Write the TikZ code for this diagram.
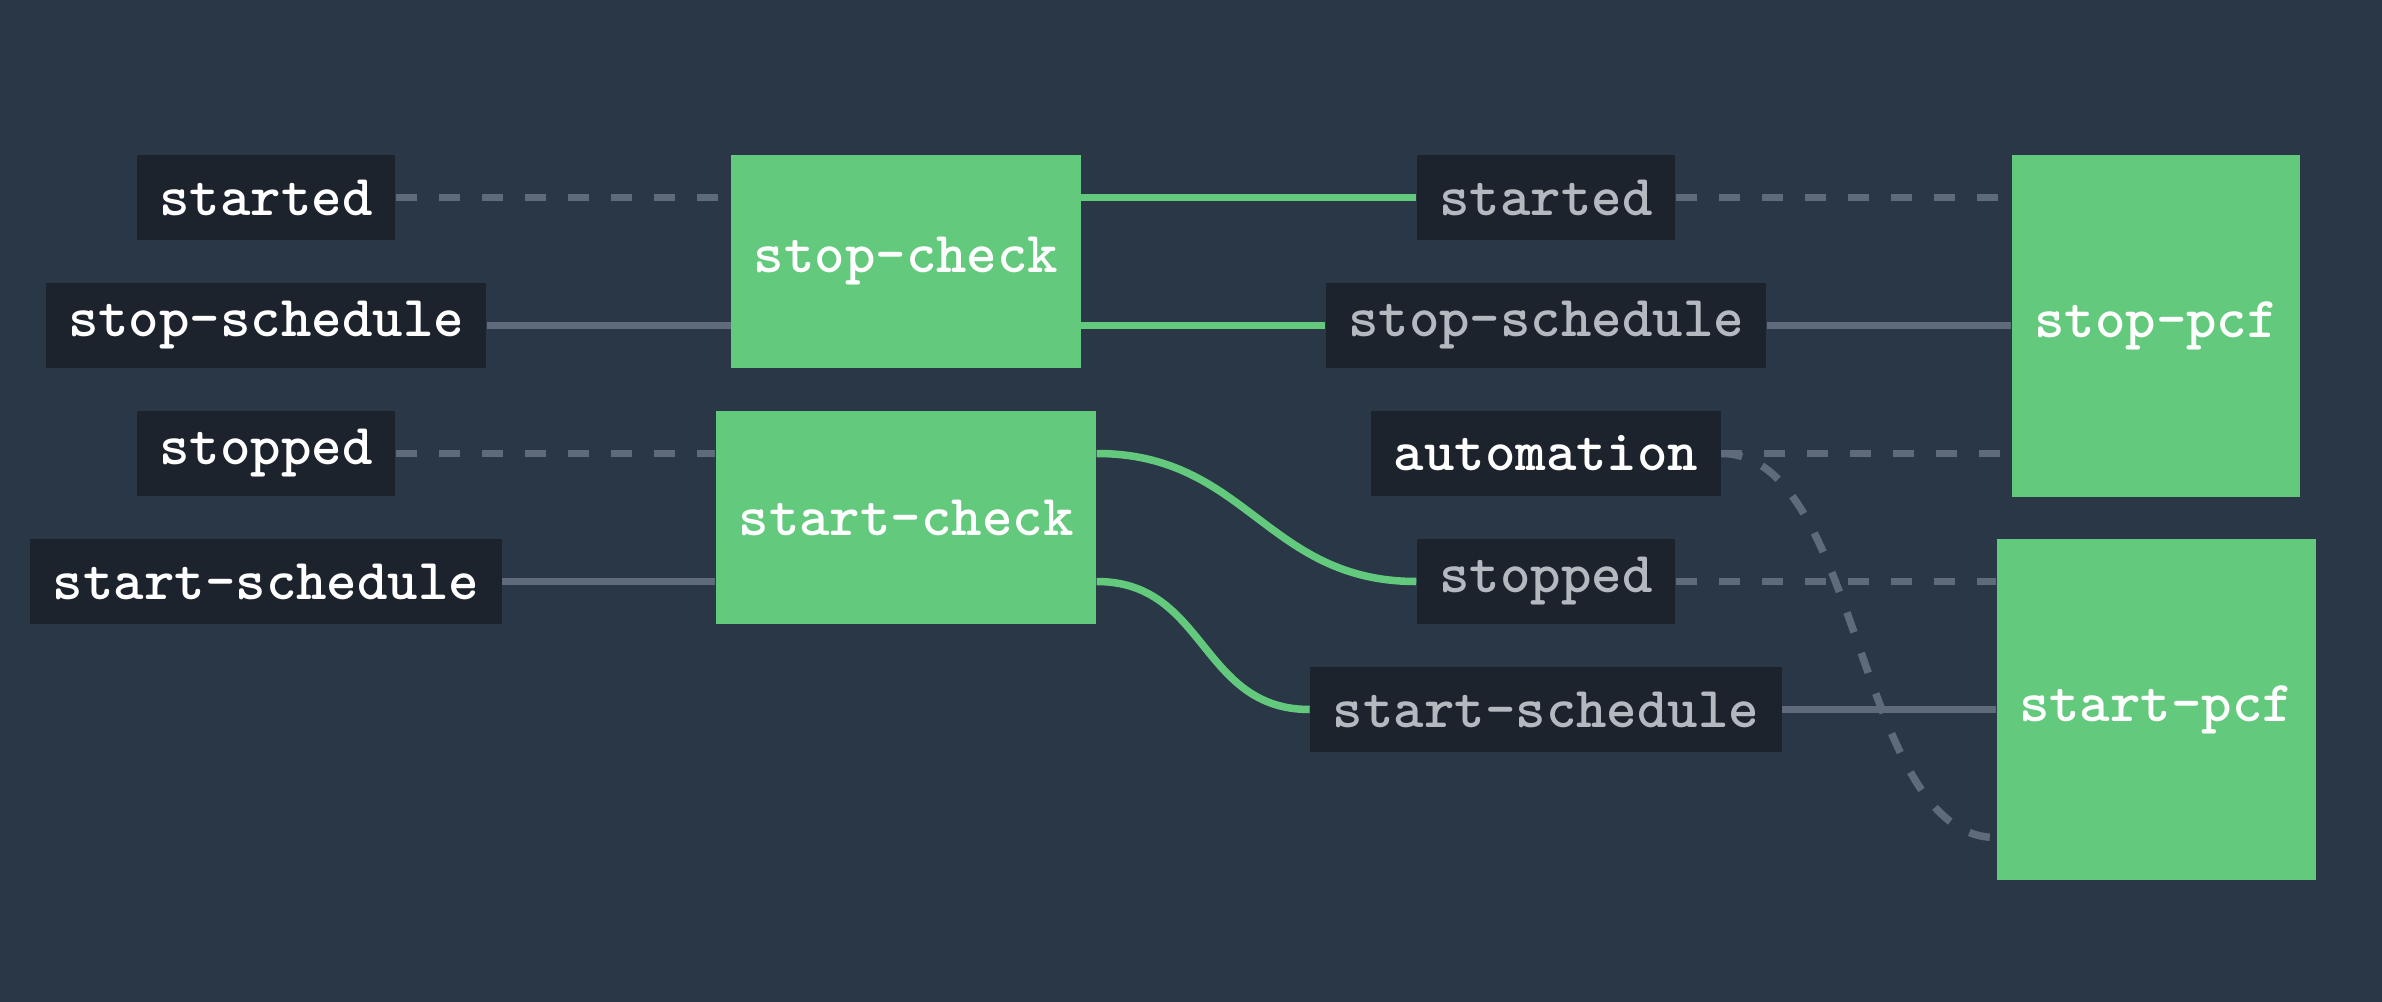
\documentclass[tikz,border=0pt]{standalone}
\usepackage{fontspec}
\usepackage{tikz}
\definecolor{canvas}{HTML}{2A3746}
\definecolor{portbg}{HTML}{1D232C}
\definecolor{dimtext}{HTML}{B3B9BF}
\definecolor{jobgreen}{HTML}{63C97C}
\definecolor{wiregray}{HTML}{5F6B7A}
\tikzset{
every node/.style={rectangle, inner xsep=2.25mm, inner ysep=0pt, font=\ttfamily\bfseries\fontsize{16.5}{19}\selectfont},
port/.style={fill=portbg, text=white, minimum height=8.5mm},
dimport/.style={port, text=dimtext},
job/.style={fill=jobgreen, text=white},
wire/.style={line width=0.75mm, draw=wiregray},
dashwire/.style={wire, dash pattern=on 2.1mm off 2.2mm},
link/.style={line width=0.75mm, draw=jobgreen}
}

\begin{document}
\begin{tikzpicture}
\fill[canvas] (0,0) rectangle (23.82,-10.02);
\useasboundingbox (0,0) rectangle (23.82,-10.02);

\node [port] (lstarted) at (2.66,-1.975) {started};
\node [port] (lstopsched) at (2.66,-3.255) {stop-schedule};
\node [port] (lstopped) at (2.66,-4.535) {stopped};
\node [port] (lstartsched) at (2.66,-5.815) {start-schedule};

\node [job, minimum height=21.3mm] (stopcheck) at (9.06,-2.615) {stop-check};
\node [job, minimum height=21.3mm] (startcheck) at (9.06,-5.175) {start-check};

\node [dimport] (mstarted) at (15.46,-1.975) {started};
\node [dimport] (mstopsched) at (15.46,-3.255) {stop-schedule};
\node [port] (automation) at (15.46,-4.535) {automation};
\node [dimport] (mstopped) at (15.46,-5.815) {stopped};
\node [dimport] (mstartsched) at (15.46,-7.095) {start-schedule};

\node [job, minimum height=34.2mm] (stoppcf) at (21.56,-3.26) {stop-pcf};
\node [job, minimum height=34.1mm] (startpcf) at (21.56,-7.095) {start-pcf};

\draw[dashwire] (lstarted.east) -- (lstarted -| stopcheck.west);
\draw[wire] (lstopsched.east) -- (lstopsched -| stopcheck.west);
\draw[dashwire] (lstopped.east) -- (lstopped -| startcheck.west);
\draw[wire] (lstartsched.east) -- (lstartsched -| startcheck.west);

\draw[link] (lstarted -| stopcheck.east) -- (mstarted.west);
\draw[link] (lstopsched -| stopcheck.east) -- (mstopsched.west);
\draw[link] (lstopped -| startcheck.east) .. controls +(1.5,0) and +(-1.5,0) .. (mstopped.west);
\draw[link] (lstartsched -| startcheck.east) .. controls +(1.1,0) and +(-1.1,0) .. (mstartsched.west);

\draw[dashwire] (mstarted.east) -- (mstarted -| stoppcf.west);
\draw[wire] (mstopsched.east) -- (mstopsched -| stoppcf.west);
\draw[dashwire] (automation.east) -- (automation -| stoppcf.west);
\draw[dashwire] (mstopped.east) -- (mstopped -| startpcf.west);
\draw[wire] (mstartsched.east) -- (mstartsched -| startpcf.west);
\draw[dashwire] (automation.east) .. controls +(1.4,0) and +(-1.4,0) .. ([yshift=-12.8mm]startpcf.west);
\end{tikzpicture}
\end{document}
